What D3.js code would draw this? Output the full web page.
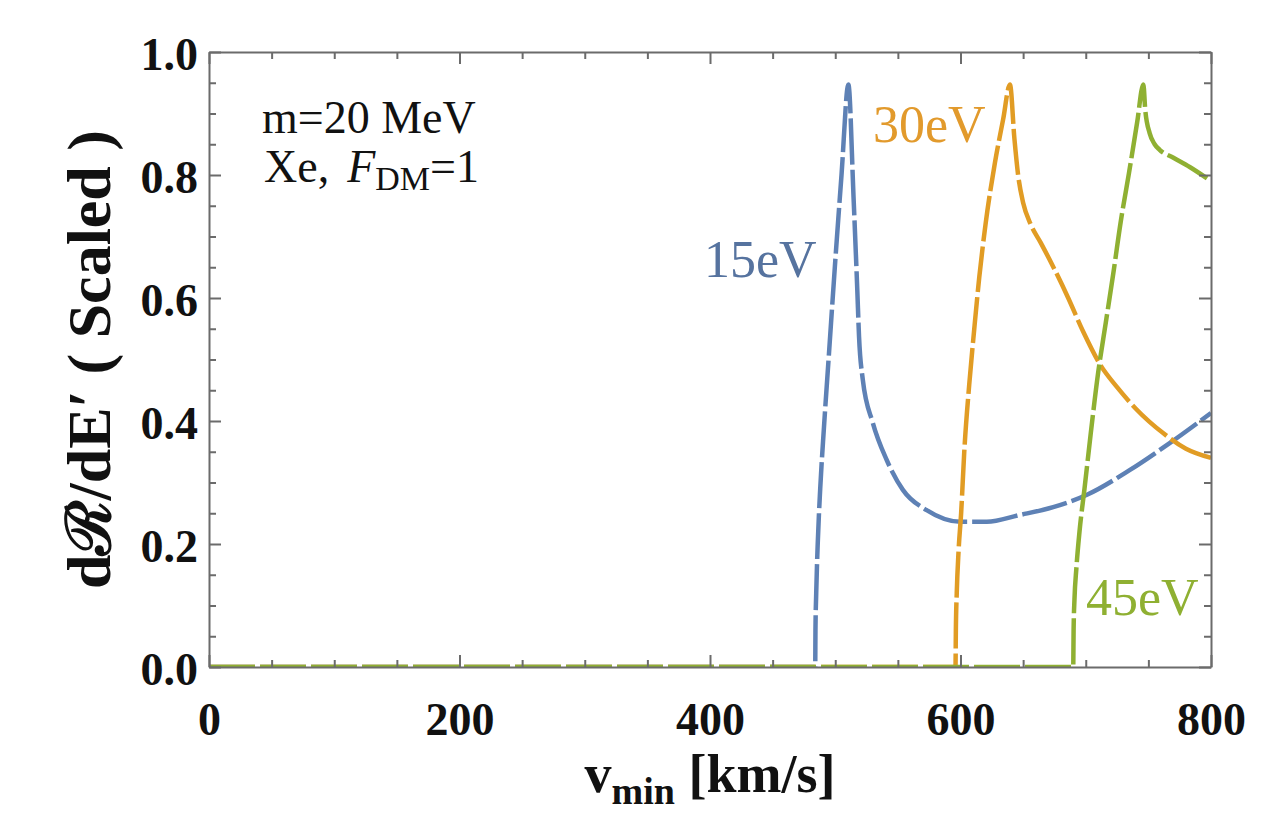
<!DOCTYPE html>
<html>
<head>
<meta charset="utf-8">
<script src="https://cdn.jsdelivr.net/npm/d3@7"></script>
<style>
  body { margin: 0; background: #fff; }
  svg { display: block; }
</style>
</head>
<body>
<script>
// dR/dE' (scaled) vs v_min, three energy bins
const blueV   = [0, 484, 484.2, 484.8, 486, 488, 491, 495, 500, 505, 510.5, 514.6, 517.6, 519, 522, 530, 541, 554, 573, 600, 621, 647, 674, 701, 735, 767, 800];
const blueY   = [0, 0, 0.06, 0.12, 0.2, 0.29, 0.39, 0.51, 0.66, 0.8, 0.947, 0.764, 0.613, 0.537, 0.467, 0.397, 0.337, 0.288, 0.255, 0.236, 0.236, 0.247, 0.26, 0.28, 0.32, 0.364, 0.413];

const orangeV = [0, 596, 596.3, 597, 598.5, 600.5, 603, 607, 611, 615, 620, 627.5, 634, 639.5, 643, 646, 650, 656, 664, 673, 686, 698, 712, 725, 740, 762, 780, 800];
const orangeY = [0, 0, 0.06, 0.12, 0.19, 0.25, 0.35, 0.46, 0.55, 0.634, 0.72, 0.82, 0.89, 0.947, 0.86, 0.8, 0.755, 0.72, 0.69, 0.655, 0.6, 0.545, 0.49, 0.455, 0.42, 0.38, 0.355, 0.34];

const greenV  = [0, 690, 690.3, 691, 692.5, 695, 699, 704, 710, 716, 722, 728, 734.5, 741, 746, 747.5, 751, 755, 759, 770, 783, 800];
const greenY  = [0, 0, 0.06, 0.11, 0.16, 0.22, 0.29, 0.38, 0.48, 0.56, 0.64, 0.725, 0.803, 0.885, 0.947, 0.906, 0.868, 0.85, 0.841, 0.828, 0.813, 0.79];

const seriesNames  = ["15eV", "30eV", "45eV"];
const seriesColors = ["#5e81b5", "#e19c24", "#8fb032"];
const labelColors  = ["#56739f", "#e29a2c", "#8fb032"];

const xTicks = [0, 200, 400, 600, 800];
const yTicks = [0, 0.2, 0.4, 0.6, 0.8, 1.0];

const W = 1274, H = 822;
const margin = { left: 209, right: W - 1211, top: 52, bottom: H - 667 };
const serif = "'Liberation Serif', 'Times New Roman', serif";

const svg = d3.select("body").append("svg").attr("width", W).attr("height", H);

const x = d3.scaleLinear().domain([0, 800]).range([margin.left, W - margin.right]);
const y = d3.scaleLinear().domain([0, 1]).range([H - margin.bottom, margin.top]);

svg.append("defs").append("clipPath").attr("id", "plotclip")
  .append("rect")
  .attr("x", x(0)).attr("y", y(1))
  .attr("width", x(800) - x(0)).attr("height", y(0) - y(1));

// curves
const line = d3.line().x(d => x(d[0])).y(d => y(d[1])).curve(d3.curveMonotoneX);
const allSeries = [
  d3.zip(blueV, blueY),
  d3.zip(orangeV, orangeY),
  d3.zip(greenV, greenY)
];

svg.append("g").attr("clip-path", "url(#plotclip)")
  .selectAll("path")
  .data(allSeries)
  .enter().append("path")
  .attr("d", line)
  .attr("fill", "none")
  .attr("stroke", (d, i) => seriesColors[i])
  .attr("stroke-width", 4.5)
  .attr("stroke-dasharray", "46,5")
  .attr("stroke-linejoin", "round");

// frame with inward ticks on all four sides
const frameColor = "#6b6b6b";
function styleAxis(g) {
  g.select(".domain").attr("stroke", frameColor).attr("stroke-width", 2);
  g.selectAll(".tick line").attr("stroke", frameColor).attr("stroke-width", 2);
}

const xMinor = d3.range(0, 801, 50).filter(v => v % 200 !== 0);
const yMinor = d3.range(0, 1.0001, 0.05).filter(v => Math.abs(v * 5 - Math.round(v * 5)) > 1e-6);

// bottom
const gb = svg.append("g").attr("transform", `translate(0,${y(0)})`)
  .call(d3.axisBottom(x).tickValues(xTicks).tickSize(-12).tickSizeOuter(0).tickFormat(d3.format("d")));
styleAxis(gb);
gb.selectAll(".tick text")
  .attr("y", 68).attr("dy", 0)
  .attr("fill", "#111")
  .style("font-family", serif).style("font-weight", "bold").style("font-size", "46px");
svg.append("g").attr("transform", `translate(0,${y(0)})`)
  .call(d3.axisBottom(x).tickValues(xMinor).tickSize(-7).tickSizeOuter(0).tickFormat(""))
  .call(styleAxis).select(".domain").remove();

// top
const gt = svg.append("g").attr("transform", `translate(0,${y(1)})`)
  .call(d3.axisTop(x).tickValues(xTicks).tickSize(-12).tickSizeOuter(0).tickFormat(""));
styleAxis(gt);
svg.append("g").attr("transform", `translate(0,${y(1)})`)
  .call(d3.axisTop(x).tickValues(xMinor).tickSize(-7).tickSizeOuter(0).tickFormat(""))
  .call(styleAxis).select(".domain").remove();

// left
const gl = svg.append("g").attr("transform", `translate(${x(0)},0)`)
  .call(d3.axisLeft(y).tickValues(yTicks).tickSize(-12).tickSizeOuter(0).tickFormat(d3.format(".1f")));
styleAxis(gl);
gl.selectAll(".tick text")
  .attr("x", -11).attr("dy", 0).attr("y", 17)
  .attr("fill", "#111")
  .style("font-family", serif).style("font-weight", "bold").style("font-size", "46px");
svg.append("g").attr("transform", `translate(${x(0)},0)`)
  .call(d3.axisLeft(y).tickValues(yMinor).tickSize(-7).tickSizeOuter(0).tickFormat(""))
  .call(styleAxis).select(".domain").remove();

// right
const gr = svg.append("g").attr("transform", `translate(${x(800)},0)`)
  .call(d3.axisRight(y).tickValues(yTicks).tickSize(-12).tickSizeOuter(0).tickFormat(""));
styleAxis(gr);
svg.append("g").attr("transform", `translate(${x(800)},0)`)
  .call(d3.axisRight(y).tickValues(yMinor).tickSize(-7).tickSizeOuter(0).tickFormat(""))
  .call(styleAxis).select(".domain").remove();

// curve labels
const labelPos = [[704, 277], [873, 142], [1086, 615]];
svg.selectAll(".clabel")
  .data(seriesNames)
  .enter().append("text")
  .attr("class", "clabel")
  .attr("x", (d, i) => labelPos[i][0])
  .attr("y", (d, i) => labelPos[i][1])
  .attr("fill", (d, i) => labelColors[i])
  .style("font-family", serif).style("font-size", "52px")
  .text(d => d);

// inset text
const inset = svg.append("g").style("font-family", serif).style("font-size", "46px").attr("fill", "#111");
inset.append("text").attr("x", 262).attr("y", 133).text("m=20 MeV");
const t2 = inset.append("text").attr("x", 264).attr("y", 182);
t2.append("tspan").text("Xe,");
t2.append("tspan").attr("dx", 18).style("font-style", "italic").text("F");
t2.append("tspan").attr("dy", 8).style("font-size", "34px").text("DM");
t2.append("tspan").attr("dy", -8).text("=1");

// axis titles
const xt = svg.append("text")
  .attr("x", x(400)).attr("y", 792)
  .attr("text-anchor", "middle")
  .attr("fill", "#111")
  .style("font-family", serif).style("font-weight", "bold").style("font-size", "54px");
xt.append("tspan").text("v");
xt.append("tspan").attr("dy", 12).style("font-size", "38px").text("min");
xt.append("tspan").attr("dy", -12).text(" [km/s]");

svg.append("text")
  .attr("transform", `translate(110,${(y(0) + y(1)) / 2}) rotate(-90)`)
  .attr("text-anchor", "middle")
  .attr("fill", "#111")
  .style("font-family", serif).style("font-weight", "bold").style("font-size", "62px")
  .text("d\u211B/dE\u2032 ( Scaled )");
</script>
</body>
</html>
